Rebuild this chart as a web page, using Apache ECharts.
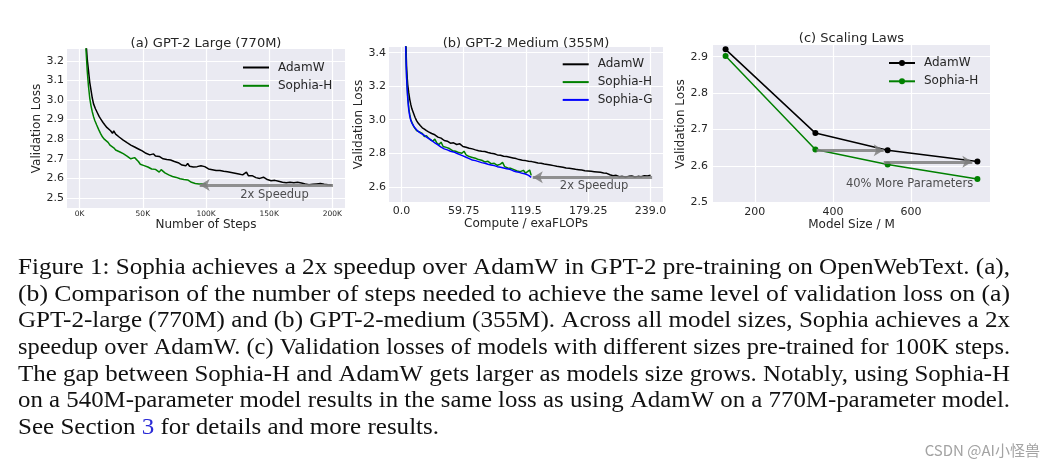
<!DOCTYPE html>
<html><head><meta charset="utf-8">
<script src="https://cdn.jsdelivr.net/npm/echarts@6/dist/echarts.min.js"></script>
<style>html,body{margin:0;padding:0;background:#fff}#c{width:1055px;height:468px}</style>
</head><body><div id="c"></div><script>
// ---------- (a) GPT-2 Large: [steps (K), validation loss] ----------
const adamA = [[4,3.45],[5,3.30],[6,3.21],[7,3.15],[8,3.09],[9,3.05],[10,3.01],[11,2.98],[12.5,2.955],[14,2.935],[15.5,2.915],[17,2.9],[18.5,2.885],[20,2.872],[21.5,2.86],[23,2.85],[24.5,2.843],[26,2.83],[27,2.842],[28.5,2.826],[30,2.822],[31.5,2.81],[33,2.805],[34.5,2.795],[36,2.785],[37.5,2.782],[39,2.776],[40.5,2.77],[42,2.768],[43.5,2.76],[45,2.758],[46.5,2.75],[48,2.746],[49.5,2.74],[51,2.73],[52.5,2.728],[54,2.722],[55.5,2.72],[57,2.73],[58.5,2.725],[60,2.714],[61.5,2.71],[63,2.712],[64.5,2.704],[66,2.7],[67.5,2.706],[69,2.696],[70.5,2.69],[72,2.694],[73.5,2.684],[75,2.686],[76.5,2.676],[78,2.68],[79.5,2.672],[81,2.668],[82.5,2.672],[84,2.664],[85.5,2.676],[87,2.662],[88.5,2.666],[90,2.658],[91.5,2.654],[93,2.66],[94.5,2.652],[96,2.664],[97.5,2.655],[99,2.66],[100.5,2.658],[102,2.648],[103.5,2.652],[105,2.644],[106.5,2.648],[108,2.64],[109.5,2.646],[111,2.64],[112.5,2.643],[114,2.636],[115.5,2.64],[117,2.634],[118.5,2.636],[120,2.63],[121.5,2.633],[123,2.626],[124.5,2.629],[126,2.622],[127.5,2.624],[129,2.618],[130.5,2.622],[132,2.632],[133.5,2.614],[135,2.61],[136.5,2.614],[138,2.606],[139.5,2.604],[141,2.608],[142.5,2.6],[144,2.602],[145.5,2.606],[147,2.596],[148.5,2.594],[150,2.598],[151.5,2.588],[153,2.584],[154.5,2.59],[156,2.594],[157.5,2.585],[159,2.588],[160.5,2.58],[162,2.584],[163.5,2.578],[165,2.588],[166.5,2.58],[168,2.59],[169.5,2.578],[171,2.574],[172.5,2.58],[174,2.572],[175.5,2.577],[177,2.582],[178.5,2.572],[180,2.574],[181.5,2.568],[183,2.576],[184.5,2.57],[186,2.566],[187.5,2.572],[189,2.568],[190.5,2.574],[192,2.566],[193.5,2.57],[195,2.573],[196.5,2.567],[198,2.57],[199.5,2.566]];
const sophiaHA = [[4,3.45],[5,3.26],[6,3.15],[7,3.07],[8,3.01],[9,2.97],[10,2.94],[11,2.915],[12,2.895],[13.5,2.872],[15,2.85],[16.5,2.83],[18,2.812],[19.5,2.8],[21,2.79],[22.5,2.784],[24,2.77],[25.5,2.762],[27,2.756],[28.5,2.745],[30,2.748],[31.5,2.736],[33,2.73],[34.5,2.726],[36,2.72],[37.5,2.714],[39,2.71],[40.5,2.7],[42,2.696],[43.5,2.706],[45,2.7],[46.5,2.686],[48,2.672],[49.5,2.668],[51,2.665],[52.5,2.66],[54,2.658],[55.5,2.652],[57,2.648],[58.5,2.642],[60,2.646],[61.5,2.638],[63,2.632],[64.5,2.645],[66,2.636],[67.5,2.628],[69,2.622],[70.5,2.618],[72,2.614],[73.5,2.61],[75,2.608],[76.5,2.605],[78,2.604],[79.5,2.598],[81,2.6],[82.5,2.594],[84,2.59],[85.5,2.592],[87,2.584],[88.5,2.58],[90,2.578],[91.5,2.574],[93,2.576],[94.5,2.572],[96,2.575],[97.5,2.571],[99,2.574],[100,2.572]];

// ---------- (b) GPT-2 Medium: [compute (exaFLOPs), validation loss] ----------
const adamB = [[4,3.5],[5,3.3],[6,3.21],[7,3.16],[8,3.12],[9,3.09],[10,3.065],[11.5,3.04],[13,3.015],[14.5,2.995],[16,2.98],[18,2.965],[20,2.952],[22,2.944],[24,2.935],[26,2.928],[29,2.918],[32,2.91],[35,2.896],[38,2.89],[41,2.876],[44,2.872],[47,2.86],[50,2.862],[53,2.852],[56,2.856],[59,2.84],[62,2.836],[65,2.83],[68,2.826],[71,2.82],[74,2.815],[77,2.812],[80,2.81],[83,2.804],[86,2.8],[89,2.797],[92,2.79],[95,2.788],[98,2.782],[101,2.78],[104,2.776],[107,2.772],[110,2.768],[113,2.762],[116,2.758],[119,2.756],[122,2.752],[125,2.75],[128,2.746],[131,2.742],[134,2.74],[137,2.736],[140,2.733],[143,2.73],[146,2.726],[149,2.722],[152,2.72],[155,2.716],[158,2.712],[161,2.71],[164,2.708],[167,2.704],[170,2.702],[173,2.7],[176,2.696],[179,2.694],[182,2.692],[185,2.69],[188,2.688],[191,2.686],[194,2.682],[197,2.68],[200,2.672],[203,2.666],[206,2.668],[209,2.66],[212,2.662],[215,2.658],[218,2.662],[221,2.664],[224,2.658],[227,2.662],[230,2.66],[233,2.666],[236,2.664],[239,2.668]];
const sophiaHB = [[4,3.45],[5,3.25],[6,3.14],[7,3.07],[8,3.03],[9,3.0],[10,2.985],[11.5,2.962],[13,2.958],[14.5,2.935],[16,2.94],[18,2.925],[20,2.918],[22,2.9],[24,2.905],[26,2.89],[28,2.88],[30,2.872],[32,2.884],[34,2.86],[36,2.852],[38,2.866],[40,2.84],[43,2.835],[46,2.828],[49,2.815],[52,2.812],[55,2.804],[58,2.8],[60,2.812],[62,2.79],[65,2.78],[68,2.775],[71,2.77],[74,2.762],[77,2.758],[80,2.748],[83,2.752],[86,2.738],[89,2.74],[92,2.728],[95,2.735],[97,2.745],[99,2.72],[102,2.712],[105,2.71],[108,2.702],[111,2.694],[114,2.69],[117,2.698],[119,2.682],[121,2.69],[123,2.7],[124.5,2.668]];
const sophiaGB = [[4,3.45],[5,3.24],[6,3.13],[7,3.06],[8,3.02],[9,2.995],[10,2.98],[11.5,2.965],[13,2.95],[14.5,2.94],[16,2.93],[18,2.922],[20,2.914],[22,2.906],[24,2.896],[26,2.888],[29,2.876],[32,2.862],[35,2.85],[38,2.836],[41,2.826],[44,2.82],[47,2.812],[50,2.808],[53,2.8],[56,2.792],[59,2.784],[62,2.776],[65,2.768],[68,2.76],[71,2.756],[74,2.75],[77,2.744],[80,2.74],[83,2.734],[86,2.73],[89,2.726],[92,2.72],[95,2.716],[98,2.712],[101,2.708],[104,2.704],[107,2.696],[110,2.69],[113,2.686],[116,2.68],[119,2.676],[122,2.668],[124.5,2.656]];

// ---------- (c) Scaling laws ----------
const modelSizes = [125, 355, 540, 770];
const adamC = [2.92, 2.69, 2.643, 2.612];
const sophiaHC = [2.902, 2.645, 2.604, 2.564];

// ---------- annotations: arrows [x1, y1, x2, y2] (head at x2,y2) and texts ----------
const arrowsA = [[200.5, 2.566, 95, 2.566]];
const arrowsB = [[240.5, 2.656, 126, 2.656]];
const arrowsC = [[358, 2.643, 530, 2.643], [530, 2.611, 757, 2.611]];
const noteA = ['2x Speedup', 154.2, 2.515];
const noteB = ['2x Speedup', 184.8, 2.606];
const noteC = ['40% More Parameters', 596.2, 2.551];

// ---------- ticks ----------
const aXTicks = [0, 50, 100, 150, 200];
const aXLabels = ['0K', '50K', '100K', '150K', '200K'];
const aYTicks = [2.5, 2.6, 2.7, 2.8, 2.9, 3.0, 3.1, 3.2];
const bXTicks = [0, 59.75, 119.5, 179.25, 239];
const bXLabels = ['0.0', '59.75', '119.5', '179.25', '239.0'];
const bYTicks = [2.6, 2.8, 3.0, 3.2, 3.4];
const cXTicks = [200, 400, 600];
const cXLabels = ['200', '400', '600'];
const cYTicks = [2.5, 2.6, 2.7, 2.8, 2.9];

// ---------- caption ----------
const captionLines = [
  'Figure 1: Sophia achieves a 2x speedup over AdamW in GPT-2 pre-training on OpenWebText. (a),',
  '(b) Comparison of the number of steps needed to achieve the same level of validation loss on (a)',
  'GPT-2-large (770M) and (b) GPT-2-medium (355M). Across all model sizes, Sophia achieves a 2x',
  'speedup over AdamW. (c) Validation losses of models with different sizes pre-trained for 100K steps.',
  'The gap between Sophia-H and AdamW gets larger as models size grows. Notably, using Sophia-H',
  'on a 540M-parameter model results in the same loss as using AdamW on a 770M-parameter model.'
];
const captionLast = ['See Section ', '3', ' for details and more results.'];
const watermark = 'CSDN @AI小怪兽';

// ---------- build ----------
const FONT = 'DejaVu Sans';
const TXT = '#262626';
const BG = '#EAEAF2';

function lbl(ticks, labels, dec) {
  return function (v) {
    for (let i = 0; i < ticks.length; i++) if (Math.abs(ticks[i] - v) < 1e-6) return labels ? labels[i] : ticks[i].toFixed(dec);
    return '';
  };
}
function xAxis(gi, min, max, ticks, labels, name, fs, nameGap, margin) {
  return {
    type: 'value', gridIndex: gi, min: min, max: max, name: name, nameLocation: 'middle', nameGap: nameGap,
    nameTextStyle: { fontFamily: FONT, fontSize: 12, color: TXT },
    axisLine: { show: false }, axisTick: { show: false, customValues: ticks },
    axisLabel: { customValues: ticks, formatter: lbl(ticks, labels, 1), fontFamily: FONT, fontSize: fs, color: TXT, margin: margin },
    splitLine: { show: true, customValues: ticks, lineStyle: { color: '#fff', width: 1.2 } }
  };
}
function yAxis(gi, min, max, ticks, nameGap, margin) {
  return {
    type: 'value', gridIndex: gi, min: min, max: max, name: 'Validation Loss', nameLocation: 'middle', nameGap: nameGap,
    nameTextStyle: { fontFamily: FONT, fontSize: 12, color: TXT },
    axisLine: { show: false }, axisTick: { show: false, customValues: ticks },
    axisLabel: { customValues: ticks, formatter: lbl(ticks, null, 1), fontFamily: FONT, fontSize: 11, color: TXT, margin: margin },
    splitLine: { show: true, customValues: ticks, lineStyle: { color: '#fff', width: 1.2 } }
  };
}
function arrowML(arrs) {
  return {
    silent: true, symbol: ['none', 'arrow'], symbolSize: [9, 10], animation: false,
    label: { show: false }, emphasis: { disabled: true },
    lineStyle: { type: 'solid', color: '#7f7f7f', width: 3.2, opacity: 0.85 },
    data: arrs.map(a => [{ coord: [a[0], a[1]] }, { coord: [a[2], a[3]] }])
  };
}
function note(gi, n) {
  return {
    type: 'scatter', xAxisIndex: gi, yAxisIndex: gi, silent: true, symbolSize: 1,
    itemStyle: { color: 'rgba(0,0,0,0)' }, data: [[n[1], n[2]]], z: 5,
    label: { show: true, position: 'inside', formatter: n[0], fontFamily: FONT, fontSize: 11.5, color: TXT }
  };
}
function lineS(name, gi, data, color, extra) {
  return Object.assign({
    name: name, type: 'line', xAxisIndex: gi, yAxisIndex: gi, data: data, symbol: 'none',
    lineStyle: { color: color, width: 1.5 }, itemStyle: { color: color }, silent: true
  }, extra || {});
}
function legend(names, left, top, gap, ih, hideMarker) {
  const l = {
    data: names, left: left, top: top, orient: 'vertical', itemWidth: 26, itemHeight: ih, itemGap: gap,
    padding: 0, selectedMode: false, formatter: n => n.slice(2),
    textStyle: { fontFamily: FONT, fontSize: 12, color: TXT, padding: [0, 0, 0, 4], lineHeight: 14 }
  };
  if (hideMarker) l.itemStyle = { opacity: 0 };
  return l;
}

const chart = echarts.init(document.getElementById('c'), null, { renderer: 'canvas' });

// caption layout (measure to justify lines)
const mctx = document.createElement('canvas').getContext('2d');
const CAP_FS = 22.5, CAP_FF = 'Liberation Serif';
mctx.font = CAP_FS + 'px "' + CAP_FF + '"';
const capLeft = 18, capRight = 1010;
const graphics = [];
let scales = [];
captionLines.forEach((t, i) => {
  const w = mctx.measureText(t).width;
  const s = (capRight - capLeft) / w;
  scales.push(s);
  graphics.push({ type: 'text', x: capLeft, y: 268 + i * 26.67, scaleX: s, silent: true,
    style: { text: t, fill: '#111', fontSize: CAP_FS, fontFamily: CAP_FF, verticalAlign: 'middle' } });
});
const avgS = scales.reduce((a, b) => a + b, 0) / scales.length;
graphics.push({ type: 'text', x: capLeft, y: 268 + 6 * 26.67, scaleX: avgS, silent: true,
  style: { text: captionLast[0] + '{b|' + captionLast[1] + '}' + captionLast[2], fill: '#111', fontSize: CAP_FS, fontFamily: CAP_FF, verticalAlign: 'middle',
    rich: { b: { fill: '#2b2bd6', fontSize: CAP_FS, fontFamily: CAP_FF } } } });
graphics.push({ type: 'text', x: 1040, y: 450, silent: true,
  style: { text: watermark, fill: '#a3a3a3', fontSize: 15, fontFamily: 'Noto Sans CJK SC', align: 'right', verticalAlign: 'middle' } });

const option = {
  animation: false,
  backgroundColor: '#fff',
  title: [
    { text: '(a) GPT-2 Large (770M)', left: 206, top: 37.5, textAlign: 'center', padding: 0, textStyle: { fontFamily: FONT, fontSize: 13, fontWeight: 'normal', color: TXT } },
    { text: '(b) GPT-2 Medium (355M)', left: 526, top: 37, textAlign: 'center', padding: 0, textStyle: { fontFamily: FONT, fontSize: 13, fontWeight: 'normal', color: TXT } },
    { text: '(c) Scaling Laws', left: 851.5, top: 32.5, textAlign: 'center', padding: 0, textStyle: { fontFamily: FONT, fontSize: 13, fontWeight: 'normal', color: TXT } }
  ],
  grid: [
    { left: 67, top: 49, width: 278, height: 159, show: true, backgroundColor: BG, borderWidth: 0 },
    { left: 389, top: 47, width: 274, height: 155, show: true, backgroundColor: BG, borderWidth: 0 },
    { left: 713, top: 45, width: 277, height: 158, show: true, backgroundColor: BG, borderWidth: 0 }
  ],
  xAxis: [
    xAxis(0, -10, 210, aXTicks, aXLabels, 'Number of Steps', 7.5, 9, 2),
    xAxis(1, -11.95, 250.95, bXTicks, bXLabels, 'Compute / exaFLOPs', 11, 15, 4),
    xAxis(2, 92.75, 802.25, cXTicks, cXLabels, 'Model Size / M', 11, 14, 4)
  ],
  yAxis: [
    yAxis(0, 2.449, 3.26, aYTicks, 23, 3),
    yAxis(1, 2.509, 3.434, bYTicks, 24, 3),
    yAxis(2, 2.498, 2.932, cYTicks, 24, 5)
  ],
  legend: [
    legend(['a_AdamW', 'a_Sophia-H'], 242, 60.5, 4.3, 14, true),
    legend(['b_AdamW', 'b_Sophia-H', 'b_Sophia-G'], 561.7, 57.3, 3.8, 14, true),
    legend(['c_AdamW', 'c_Sophia-H'], 888, 56, 4.3, 7.5, false)
  ],
  series: [
    lineS('a_AdamW', 0, adamA, '#000000', { markLine: arrowML(arrowsA) }),
    lineS('a_Sophia-H', 0, sophiaHA, '#008000'),
    note(0, noteA),
    lineS('b_AdamW', 1, adamB, '#000000', { markLine: arrowML(arrowsB) }),
    lineS('b_Sophia-H', 1, sophiaHB, '#008000'),
    lineS('b_Sophia-G', 1, sophiaGB, '#0000ff'),
    note(1, noteB),
    lineS('c_AdamW', 2, modelSizes.map((m, i) => [m, adamC[i]]), '#000000', { symbol: 'circle', symbolSize: 6 }),
    lineS('c_Sophia-H', 2, modelSizes.map((m, i) => [m, sophiaHC[i]]), '#008000', { symbol: 'circle', symbolSize: 6, markLine: arrowML(arrowsC) }),
    note(2, noteC)
  ],
  graphic: graphics
};
chart.setOption(option);
</script></body></html>
